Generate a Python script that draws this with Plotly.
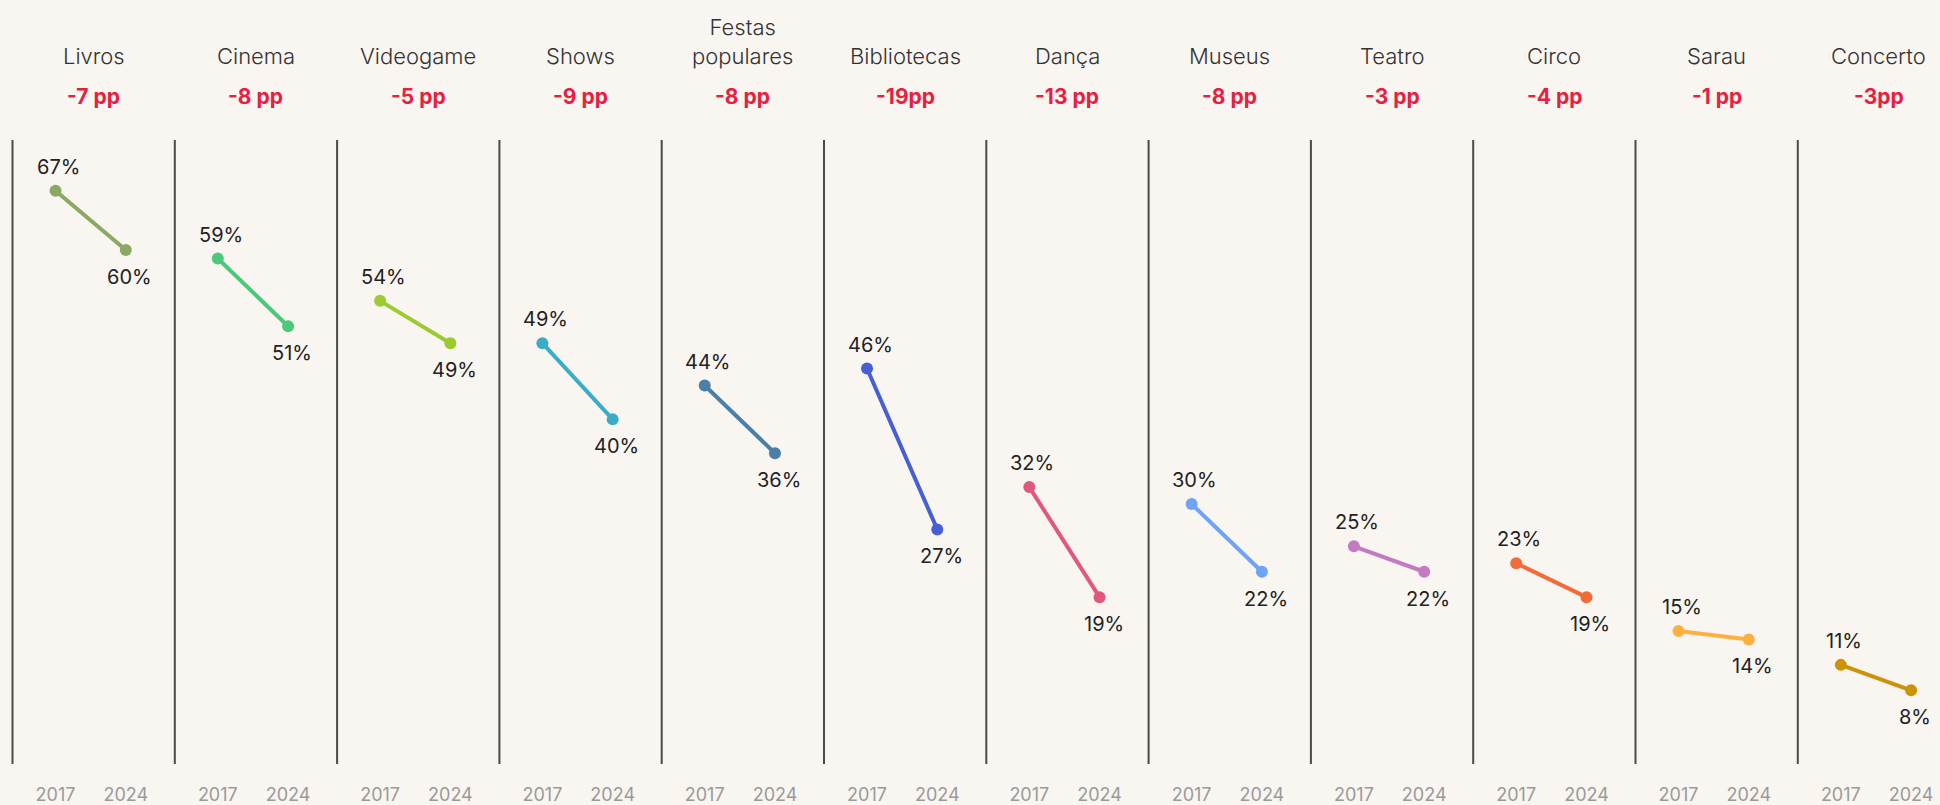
from plotly import graph_objects as go

categories = ["Livros", "Cinema", "Videogame", "Shows", "Festas<br>populares", "Bibliotecas",
              "Dança", "Museus", "Teatro", "Circo", "Sarau", "Concerto"]
years = ["2017", "2024"]
values_2017 = [67, 59, 54, 49, 44, 46, 32, 30, 25, 23, 15, 11]
values_2024 = [60, 51, 49, 40, 36, 27, 19, 22, 22, 19, 14, 8]
change_labels = ["-7 pp", "-8 pp", "-5 pp", "-9 pp", "-8 pp", "-19pp",
                 "-13 pp", "-8 pp", "-3 pp", "-4 pp", "-1 pp", "-3pp"]
colors = ["#8CA865", "#4CC87A", "#9CCB2F", "#39ADC8", "#4A80A8", "#4660D4",
          "#E2577C", "#6FA3F5", "#C27BC0", "#F26B38", "#FBB040", "#CC9208"]

# where the two years sit inside each panel (panel width = 1)
OFFSETS = [0.265, 0.698]
PANEL_PX = 162.3
LEFT_PX = 12.5
FONT = "Inter, Open Sans, sans-serif"
BG = "#F9F5F1"
RED = "#E8203F"


def main() -> None:
    fig = go.Figure()

    tickvals, ticktext = [], []
    for i, name in enumerate(categories):
        xs = [i + o for o in OFFSETS]
        ys = [values_2017[i], values_2024[i]]
        tickvals += xs
        ticktext += years

        fig.add_trace(
            go.Scatter(
                x=xs,
                y=ys,
                mode="markers+lines",
                line=dict(color=colors[i], width=4),
                marker=dict(color=colors[i], size=12),
                showlegend=False,
                hoverinfo="skip",
            )
        )

        # value labels: first year above, second year below
        fig.add_annotation(x=xs[0], y=ys[0], text=f"{ys[0]}%", showarrow=False,
                           xshift=3, yshift=24, font=dict(size=20, color="#222"))
        fig.add_annotation(x=xs[1], y=ys[1], text=f"{ys[1]}%", showarrow=False,
                           xshift=4, yshift=-27, font=dict(size=20, color="#222"))

        # panel title and change
        fig.add_annotation(x=i + 0.5, y=1.110, yref="paper", yanchor="bottom",
                           text=name, showarrow=False,
                           font=dict(size=22, color="#333", weight=300))
        fig.add_annotation(x=i + 0.5, y=1.070, yref="paper", yanchor="middle",
                           text=f"<b>{change_labels[i]}</b>", showarrow=False,
                           font=dict(size=21, color=RED))

        # separator on the left of each panel
        fig.add_shape(type="line", x0=i, x1=i, y0=0, y1=1, yref="paper",
                      line=dict(color="#4A4A4A", width=2))

    fig.update_layout(
        width=1940,
        height=805,
        margin=dict(l=0, r=0, t=140, b=39),
        paper_bgcolor=BG,
        plot_bgcolor=BG,
        font=dict(family=FONT),
        xaxis=dict(
            range=[-LEFT_PX / PANEL_PX, (1940 - LEFT_PX) / PANEL_PX],
            tickvals=tickvals,
            ticktext=ticktext,
            showgrid=False,
            zeroline=False,
            showline=False,
            ticks="",
            ticklabelstandoff=18,
            tickfont=dict(size=18, color="#9A9A9A"),
        ),
        yaxis=dict(
            range=[-0.71, 73.0],
            visible=False,
            showgrid=False,
            zeroline=False,
        ),
    )

    fig.write_html(
        "out.html",
        config={"displayModeBar": False},
        post_script="document.body.style.margin='0';document.body.style.overflow='hidden';",
    )


if __name__ == "__main__":
    main()
